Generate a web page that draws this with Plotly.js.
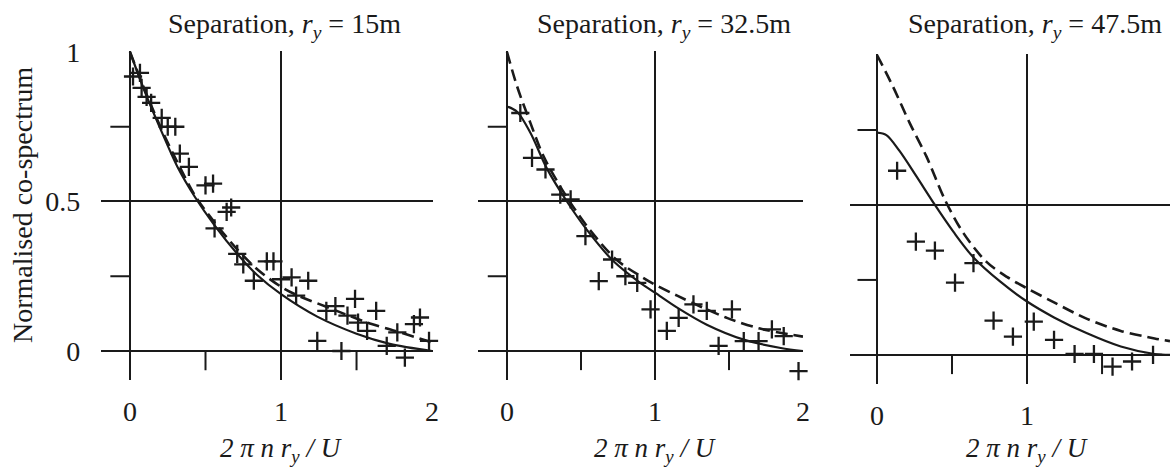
<!DOCTYPE html>
<html><head><meta charset="utf-8">
<script src="https://cdn.plot.ly/plotly-3.0.1.min.js"></script>
<style>html,body{margin:0;padding:0;background:#fff}#chart{width:1170px;height:470px}</style>
</head><body><div id="chart"></div><script>
// ---- data ----
const separations = ['15', '32.5', '47.5'];
const xTickVals = [0, 1, 2];
const xTickText = ['0', '1', '2'];
const yTickVals = [0, 0.5, 1];
const yTickText = ['0', '0.5', '1'];
const xMinorTicks = [0.5, 1.5];
const yMinorTicks = [0.25, 0.75];

// panel 1 (r_y = 15 m)
const p1MeasX = [0.02, 0.066, 0.077, 0.11, 0.14, 0.21, 0.25, 0.30, 0.33, 0.39, 0.50, 0.55, 0.56, 0.64, 0.67, 0.71, 0.75, 0.82, 0.906, 0.95, 1.0, 1.07, 1.10, 1.18, 1.24, 1.30, 1.36, 1.40, 1.44, 1.49, 1.51, 1.57, 1.63, 1.70, 1.77, 1.82, 1.88, 1.92, 1.98];
const p1MeasY = [0.918, 0.93, 0.88, 0.85, 0.83, 0.78, 0.75, 0.75, 0.66, 0.616, 0.554, 0.56, 0.41, 0.465, 0.48, 0.325, 0.29, 0.235, 0.30, 0.30, 0.24, 0.246, 0.185, 0.235, 0.034, 0.134, 0.15, 0.0, 0.118, 0.174, 0.095, 0.067, 0.134, 0.017, 0.062, -0.022, 0.09, 0.112, 0.034];
const p1SolidX = [0, 0.1, 0.21, 0.32, 0.43, 0.56, 0.71, 0.84, 1.0, 1.24, 1.5, 1.72, 2.0];
const p1SolidY = [1.0, 0.865, 0.733, 0.61, 0.515, 0.42, 0.325, 0.255, 0.19, 0.115, 0.058, 0.024, 0.0];
const p1DashX = [0, 0.1, 0.21, 0.32, 0.43, 0.56, 0.71, 0.85, 1.0, 1.1, 1.33, 1.44, 1.6, 1.75, 1.96, 2.0];
const p1DashY = [1.0, 0.87, 0.74, 0.625, 0.52, 0.43, 0.34, 0.27, 0.215, 0.188, 0.142, 0.12, 0.09, 0.068, 0.035, 0.028];

// panel 2 (r_y = 32.5 m)
const p2MeasX = [0.09, 0.169, 0.26, 0.36, 0.43, 0.53, 0.62, 0.71, 0.80, 0.88, 0.97, 1.08, 1.16, 1.26, 1.35, 1.43, 1.52, 1.60, 1.70, 1.79, 1.87, 1.97];
const p2MeasY = [0.796, 0.646, 0.607, 0.523, 0.507, 0.384, 0.234, 0.306, 0.25, 0.228, 0.139, 0.067, 0.111, 0.156, 0.134, 0.017, 0.139, 0.033, 0.033, 0.072, 0.05, -0.067];
const p2SolidX = [0, 0.068, 0.158, 0.27, 0.405, 0.54, 0.72, 0.90, 1.0, 1.15, 1.35, 1.6, 1.85, 2.0];
const p2SolidY = [0.818, 0.80, 0.73, 0.61, 0.5, 0.405, 0.3, 0.228, 0.195, 0.145, 0.088, 0.038, 0.01, 0.0];
const p2DashX = [0, 0.068, 0.158, 0.248, 0.36, 0.45, 0.56, 0.74, 0.92, 1.0, 1.15, 1.31, 1.49, 1.71, 2.0];
const p2DashY = [1.0, 0.885, 0.763, 0.65, 0.55, 0.48, 0.405, 0.305, 0.245, 0.222, 0.185, 0.148, 0.11, 0.075, 0.048];

// panel 3 (r_y = 47.5 m)
const p3MeasX = [0.134, 0.259, 0.386, 0.52, 0.643, 0.777, 0.906, 1.045, 1.18, 1.317, 1.446, 1.57, 1.70, 1.84];
const p3MeasY = [0.614, 0.378, 0.348, 0.241, 0.306, 0.114, 0.061, 0.111, 0.05, 0.003, 0.003, -0.039, -0.022, 0.0];
const p3SolidX = [0, 0.0625, 0.15, 0.263, 0.386, 0.51, 0.643, 0.82, 1.0, 1.18, 1.40, 1.625, 1.85, 1.953];
const p3SolidY = [0.741, 0.733, 0.68, 0.595, 0.5, 0.41, 0.325, 0.245, 0.178, 0.125, 0.072, 0.028, 0.003, 0.0];
const p3DashX = [0, 0.107, 0.219, 0.33, 0.453, 0.576, 0.73, 0.866, 1.0, 1.18, 1.40, 1.625, 1.85, 1.953];
const p3DashY = [1.0, 0.894, 0.772, 0.661, 0.517, 0.406, 0.31, 0.26, 0.222, 0.175, 0.12, 0.08, 0.055, 0.046];

const yTitle = 'Normalised co-spectrum';
const xTitle = '<i>2 π n r<sub>y</sub> / U</i>';

// ---- styling ----
const INK = '#1a1a1a';
const SERIF = 'Liberation Serif, Times New Roman, serif';
const panels = [
  {mx: p1MeasX, my: p1MeasY, sx: p1SolidX, sy: p1SolidY, dx: p1DashX, dy: p1DashY,
   xdom: [0.08658, 0.36966], xr: [-0.19, 2.003], ydom: [0.19149, 0.89128], titleX: 1.02},
  {mx: p2MeasX, my: p2MeasY, sx: p2SolidX, sy: p2SolidY, dx: p2DashX, dy: p2DashY,
   xdom: [0.40855, 0.68667], xr: [-0.196, 2.003], ydom: [0.19149, 0.89128], titleX: 1.06},
  {mx: p3MeasX, my: p3MeasY, sx: p3SolidX, sy: p3SolidY, dx: p3DashX, dy: p3DashY,
   xdom: [0.72650, 1.0], xr: [-0.18, 1.953], ydom: [0.1830, 0.8849], titleX: 1.05}
];

const traces = [];
const layout = {
  width: 1170, height: 470,
  margin: {l: 0, r: 0, t: 0, b: 0},
  paper_bgcolor: '#fff', plot_bgcolor: '#fff',
  showlegend: false,
  font: {family: SERIF, color: INK},
  shapes: [], annotations: []
};

panels.forEach((p, i) => {
  const n = i + 1;
  const xa = n === 1 ? 'x' : 'x' + n;
  const ya = n === 1 ? 'y' : 'y' + n;
  traces.push({x: p.sx, y: p.sy, xaxis: xa, yaxis: ya, mode: 'lines',
    line: {color: INK, width: 2.2, shape: 'spline', smoothing: 0.9}, hoverinfo: 'skip'});
  traces.push({x: p.dx, y: p.dy, xaxis: xa, yaxis: ya, mode: 'lines',
    line: {color: INK, width: 2.6, dash: '12px,6px', shape: 'spline', smoothing: 0.9}, hoverinfo: 'skip'});
  traces.push({x: p.mx, y: p.my, xaxis: xa, yaxis: ya, mode: 'markers',
    marker: {symbol: 'cross-thin', size: 13, line: {color: INK, width: 2.3}, color: INK}, cliponaxis: false});

  layout['xaxis' + (n === 1 ? '' : n)] = {
    domain: p.xdom, range: p.xr, anchor: ya,
    tickmode: 'array', tickvals: xTickVals, ticktext: xTickText,
    showgrid: true, gridcolor: INK, gridwidth: 2, zeroline: false, showline: false,
    ticks: '', ticklabelstandoff: 12, tickfont: {family: SERIF, size: 28, color: INK},
    fixedrange: true
  };
  layout['yaxis' + (n === 1 ? '' : n)] = {
    domain: p.ydom, range: [-0.097, 1.003], anchor: xa,
    tickmode: 'array', tickvals: yTickVals, ticktext: yTickText,
    showticklabels: n === 1,
    showgrid: true, gridcolor: INK, gridwidth: 2, zeroline: false, showline: false,
    ticks: '', ticklabelstandoff: 20, tickfont: {family: SERIF, size: 28, color: INK},
    fixedrange: true
  };
  // minor tick marks
  xMinorTicks.forEach(v => layout.shapes.push({type: 'line', xref: xa, yref: ya,
    x0: v, x1: v, y0: 0, y1: -0.064, line: {color: INK, width: 2}}));
  yMinorTicks.forEach(v => layout.shapes.push({type: 'line', xref: xa, yref: ya,
    x0: -0.13, x1: 0, y0: v, y1: v, line: {color: INK, width: 2}}));
  // panel title
  layout.annotations.push({xref: xa, yref: 'paper', x: p.titleX, y: 0.945, xanchor: 'center', yanchor: 'middle',
    text: 'Separation, <i>r<sub>y</sub></i> = ' + separations[i] + 'm', showarrow: false,
    font: {family: SERIF, size: 28, color: INK}});
  // x-axis title
  layout.annotations.push({xref: xa, yref: 'paper', x: 1.0, y: (470 - 450) / 470, xanchor: 'center', yanchor: 'middle',
    text: xTitle, showarrow: false, font: {family: SERIF, size: 27, color: INK}});
});

layout.annotations.push({xref: 'paper', yref: 'paper', x: 22 / 1170, y: (470 - 205) / 470,
  xanchor: 'center', yanchor: 'middle', textangle: -90, text: yTitle, showarrow: false,
  font: {family: SERIF, size: 28, color: INK}});

Plotly.newPlot('chart', traces, layout, {staticPlot: true, displayModeBar: false});
</script></body></html>
